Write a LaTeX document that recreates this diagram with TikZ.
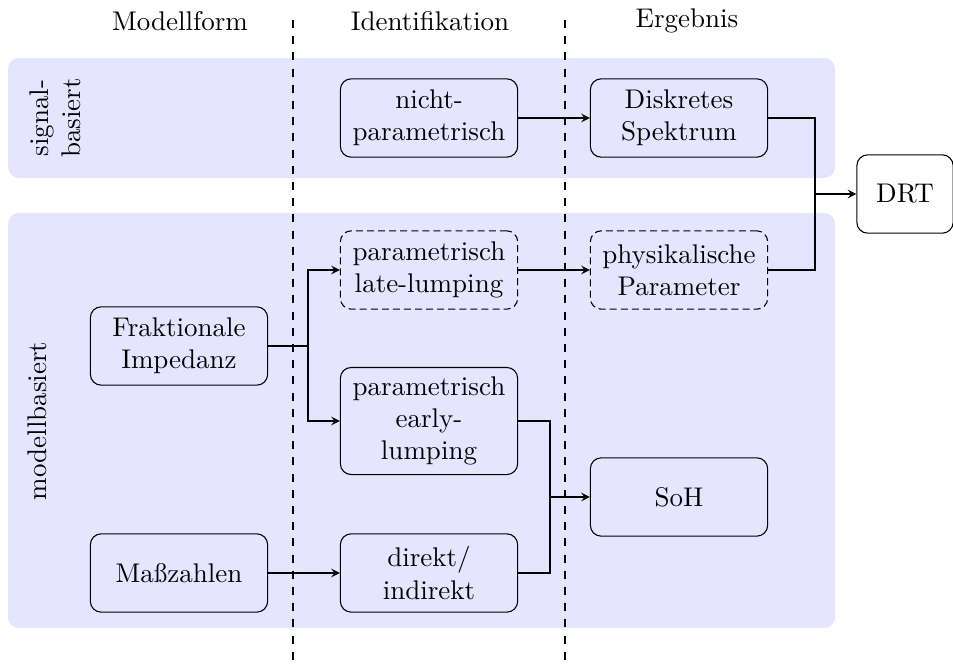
\documentclass[tikz,border=0pt]{standalone}

\begin{document}
\begin{tikzpicture}
[x=0.3704pt,y=-0.3704pt,
  boxDecorate/.style={shape=rectangle,rounded corners,draw,align=center,%
    text width=59pt,minimum height=29pt,inner sep=3.33pt},%
  dashDecorate/.style={boxDecorate,dash pattern=on 2.6pt off 1.5pt},%
  bandDecorate/.style={fill=blue!10,draw=none,rounded corners},%
  lineDecorate/.style={-stealth},%
  headDecorate/.style={inner sep=0pt}]
\useasboundingbox (0,0) rectangle (953,665);
%% background bands
\path[bandDecorate] (8,58) rectangle (835,178);
\path[bandDecorate] (8,213) rectangle (835,628);
%% column separators
\draw[dashed] (293,20) -- (293,665);
\draw[dashed] (565,20) -- (565,665);
%% headers and row labels
\node[headDecorate] (hMod) at (180,21) {Modellform};
\node[headDecorate] (hId) at (430,21) {Identifikation};
\node[headDecorate] (hErg) at (687,21) {Ergebnis};
\node[rotate=90,align=center] (rSig) at (55,118) {signal-\\basiert};
\node[rotate=90] (rMod) at (37,421) {modellbasiert};
%% nodes or boxes
\foreach \nodename/\x/\y/\txt in {np/429/118/{nicht-\\parametrisch},
  ds/679/118/{Diskretes\\Spektrum}, fi/179/346/{Fraktionale\\Impedanz},
  early/429/421/{parametrisch\\early-\\lumping}, soh/679/497/{SoH},
  mass/179/573/{Maßzahlen}, dir/429/573/{direkt/\\indirekt}}
{
  \node (\nodename) at (\x,\y) [boxDecorate] {\txt};
}
\foreach \nodename/\x/\y/\txt in {late/429/270/{parametrisch\\late-lumping},
  phys/679/270/{physikalische\\Parameter}}
{
  \node (\nodename) at (\x,\y) [dashDecorate] {\txt};
}
\node (drt) at (905,194) [boxDecorate,text width=29pt] {DRT};
%% junctions
\coordinate (jDrt) at (815,194);
\coordinate (jFrak) at (308,346);
\coordinate (jSoh) at (550,497);
%% edges or lines
\path
\foreach \startnode/\endnode in {np/ds, late/phys, mass/dir}
{
  (\startnode) edge[lineDecorate] (\endnode)
};
\draw (ds.east) -| (jDrt);
\draw (phys.east) -| (jDrt);
\draw[lineDecorate] (jDrt) -- (drt.west);
\draw (fi.east) -- (jFrak);
\draw[lineDecorate] (jFrak) |- (late.west);
\draw[lineDecorate] (jFrak) |- (early.west);
\draw (early.east) -| (jSoh);
\draw (dir.east) -| (jSoh);
\draw[lineDecorate] (jSoh) -- (soh.west);
\end{tikzpicture}
\end{document}
